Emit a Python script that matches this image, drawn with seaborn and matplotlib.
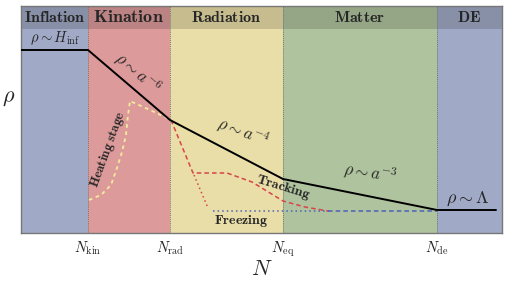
import matplotlib
matplotlib.use("Agg")
import matplotlib.pyplot as plt
import seaborn as sns
import pandas as pd

sns.set_style("white")
plt.rcParams['mathtext.fontset'] = 'cm'
plt.rcParams['font.family'] = ['DejaVu Serif']

# epochs
epochs = ["Inflation", "Kination", "Radiation", "Matter", "DE"]
edges = [21, 88, 170, 283, 437, 502]
epoch_colors = ["#a0aac6", "#dc9a9a", "#e9dea8", "#afc49e", "#a0aac6"]
tick_pos = [88, 170, 283, 437]
tick_labels = [r"$N_{\rm kin}$", r"$N_{\rm rad}$", r"$N_{\rm eq}$", r"$N_{\rm de}$"]

# background energy density (log rho)
bg_N = [21, 88, 170, 283, 437, 496]
bg_rho = [183, 183, 113, 54, 23, 23]

# heating stage
heat_N = [89, 101, 111, 117, 122, 126, 128, 130, 150, 171]
heat_rho = [33, 38, 48, 65, 81, 98, 118, 132, 123, 113]

# tracking
track_N = [171, 193, 227, 252, 283, 305, 328]
track_rho = [113, 60, 60, 51, 32, 26, 22]

# freezing
freeze_N = [194, 208]
freeze_rho = [58, 25]
frz_flat_N = [213, 330]
frz_flat_rho = [22, 22]
late_N = [328, 437]
late_rho = [22, 22]

fig = plt.figure(figsize=(5.07, 2.85), dpi=100)
ax = fig.add_axes([21/507, 1 - 233/285, 481/507, 227/285])

for i, name in enumerate(epochs):
    ax.axvspan(edges[i], edges[i+1], color=epoch_colors[i], lw=0, zorder=0)
    ax.axvspan(edges[i], edges[i+1], ymin=(227-23)/227, ymax=1, color="black",
               alpha=0.15, lw=0, zorder=1)
    fs = 13 if name == "Kination" else 11.5
    ax.text((edges[i] + edges[i+1]) / 2, 215.5, r"$\mathbf{%s}$" % name,
            ha="center", va="center", fontsize=fs, zorder=5)
for x in tick_pos:
    ax.axvline(x, color="#777777", ls=(0, (1, 1)), lw=0.7, zorder=2)

sns.lineplot(x=bg_N, y=bg_rho, ax=ax, color="black", lw=1.4, sort=False, zorder=6)
sns.lineplot(x=heat_N, y=heat_rho, ax=ax, color="#f3ec9c", lw=1.3,
             ls=(0, (2, 2)), sort=False, zorder=4)
sns.lineplot(x=track_N, y=track_rho, ax=ax, color="#d9444a", lw=1.1,
             ls=(0, (3, 2)), sort=False, zorder=4)
sns.lineplot(x=freeze_N, y=freeze_rho, ax=ax, color="#d9444a", lw=1.1,
             ls=(0, (1, 2)), sort=False, zorder=4)
sns.lineplot(x=frz_flat_N, y=frz_flat_rho, ax=ax, color="#4a62b8", lw=1.1,
             ls=(0, (1, 2)), sort=False, zorder=3)
sns.lineplot(x=late_N, y=late_rho, ax=ax, color="#4a62b8", lw=1.1,
             ls=(0, (3, 2)), sort=False, zorder=3)

ax.text(55, 195, r"$\rho\sim H_{\rm inf}$", ha="center", va="center", fontsize=10.5)
ax.text(137, 160, r"$\rho\sim a^{-6}$", ha="center", va="center", fontsize=12, rotation=-40)
ax.text(243, 101, r"$\rho\sim a^{-4}$", ha="center", va="center", fontsize=12, rotation=-20)
ax.text(370, 60, r"$\rho\sim a^{-3}$", ha="center", va="center", fontsize=12, rotation=-8)
ax.text(468, 34, r"$\rho\sim\Lambda$", ha="center", va="center", fontsize=13)
ax.text(108, 84, r"$\mathbf{Heating\ stage}$", ha="center", va="center", fontsize=9.5, rotation=70)
ax.text(283, 45, r"$\mathbf{Tracking}$", ha="center", va="center", fontsize=10, rotation=-17)
ax.text(241, 12, r"$\mathbf{Freezing}$", ha="center", va="center", fontsize=10)

ax.set_xlim(edges[0], edges[-1])
ax.set_ylim(0, 227)
ax.set_xticks(tick_pos)
ax.set_xticklabels(tick_labels, fontsize=10.5)
ax.tick_params(axis="x", length=0, pad=5)
ax.set_yticks([])
ax.set_xlabel(r"$N$", fontsize=16, va="center")
ax.xaxis.set_label_coords(0.5, -0.16)
ax.set_ylabel(r"$\rho$", fontsize=16, rotation=0)
ax.yaxis.set_label_coords(-0.025, 0.55)
for s in ax.spines.values():
    s.set_color("#777777")
    s.set_linewidth(1.0)

fig.savefig("out.png", dpi=100)
